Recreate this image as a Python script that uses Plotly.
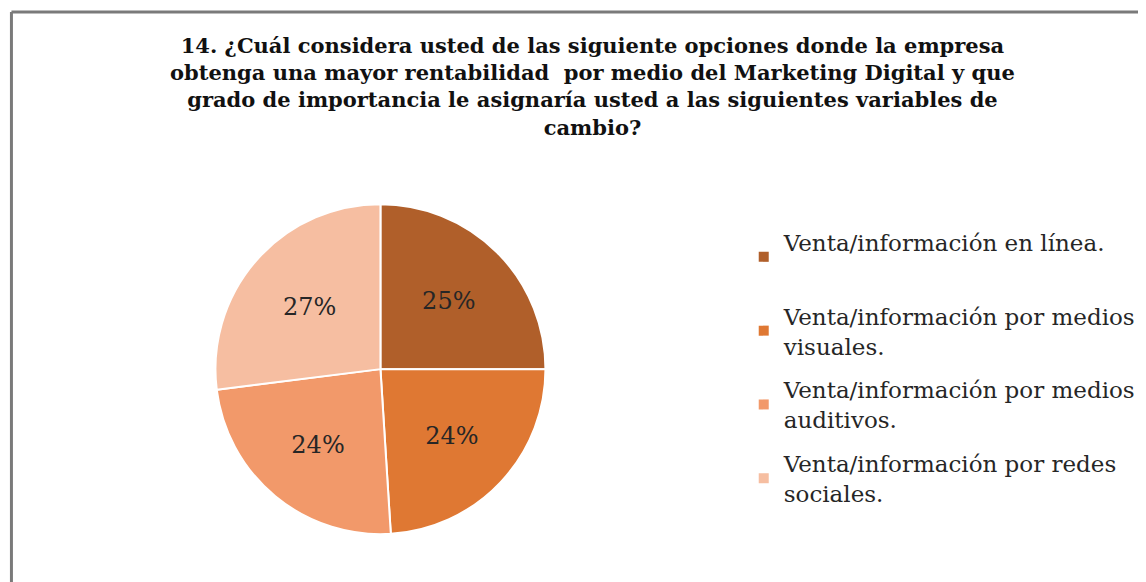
import plotly.graph_objects as go

categorias = [
    "Venta/información en línea.<br> ",
    "Venta/información por medios<br>visuales.",
    "Venta/información por medios<br>auditivos.",
    "Venta/información por redes<br>sociales.",
]
porcentajes = [25, 24, 24, 27]
colores = ["#B05F2A", "#DF7833", "#F2996A", "#F6BEA1"]

titulo = (
    "14. ¿Cuál considera usted de las siguiente opciones donde la empresa<br>"
    "obtenga una mayor rentabilidad  por medio del Marketing Digital y que<br>"
    "grado de importancia le asignaría usted a las siguientes variables de<br>"
    "cambio?"
)

serif = "DejaVu Serif"

fig = go.Figure()
fig.add_trace(go.Pie(
    labels=categorias,
    values=porcentajes,
    sort=False,
    direction="clockwise",
    rotation=0,
    marker=dict(colors=colores, line=dict(color="white", width=2)),
    textinfo="percent",
    textposition="inside",
    insidetextorientation="horizontal",
    textfont=dict(family=serif, size=24, color="#262626"),
    showlegend=False,
    hoverinfo="label+percent",
    domain=dict(x=[0.181, 0.469], y=[0.096, 0.663]),
))

# entradas de leyenda (una por categoría, para poder separarlas)
for nombre, color in zip(categorias, colores):
    fig.add_trace(go.Scatter(
        x=[None], y=[None], mode="markers", name=nombre,
        legendgroup=nombre,
        marker=dict(symbol="square", size=10, color=color),
    ))

fig.update_xaxes(visible=False)
fig.update_yaxes(visible=False)

fig.update_layout(
    width=1146, height=582,
    margin=dict(l=0, r=0, t=0, b=0),
    paper_bgcolor="white", plot_bgcolor="white",
    title=dict(
        text=titulo, x=0.51, xanchor="center", y=0.923, yanchor="top",
        font=dict(family=serif, size=21, color="#111111", weight="bold"),
    ),
    legend=dict(
        x=0.642, xanchor="left", y=0.635, yanchor="top",
        font=dict(family=serif, size=23, color="#262626"),
        tracegroupgap=11, bgcolor="rgba(0,0,0,0)",
    ),
    shapes=[
        dict(type="line", xref="paper", yref="paper", x0=0.003, x1=1.0, y0=0.993, y1=0.993,
             line=dict(color="#7A7A7A", width=3)),
        dict(type="line", xref="paper", yref="paper", x0=0.003, x1=0.003, y0=0.003, y1=0.993,
             line=dict(color="#7A7A7A", width=3)),
        dict(type="line", xref="paper", yref="paper", x0=0.003, x1=1.0, y0=0.003, y1=0.003,
             line=dict(color="#C8C8C8", width=2)),
    ],
)

fig.write_html("out.html")
